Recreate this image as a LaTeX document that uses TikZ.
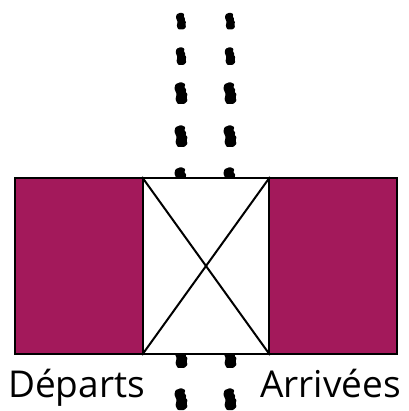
\documentclass[tikz,border=0pt]{standalone}
\usepackage{fontspec}
\setmainfont{Open Sans}
\definecolor{bordeaux}{HTML}{A3195B}
\tikzset{
  panel/.style={draw=black, line width=2pt},
  label/.style={inner sep=0pt, font=\fontsize{37}{42}\selectfont},
  footmark/.pic={
    \fill[black, rounded corners=0.8pt]
      (-5,8) -- (0,10) -- (4,8) -- (3,5) -- (5,3) -- (4,1) -- (6,-1) -- (5,-4) -- (6,-7)
      -- (3,-10) -- (-3,-10) -- (-5,-6) -- (-4,-1) -- (-6,4) -- cycle;
  }
}
\begin{document}
\begin{tikzpicture}[x=1pt,y=1pt]
\useasboundingbox (0,0) rectangle (408,411);
% footprints (y = 411 - pixel row)
\foreach \yy/\s in {390/0.85, 355/0.9, 318/1.1, 275/1.1, 233/1.1, 54/1.1, 12/1.1} {
  \pic[scale=\s] at (181,\yy) {footmark};
  \pic[scale=\s] at (230,\yy) {footmark};
}
% rectangles
\node[panel, fill=bordeaux, minimum width=128pt, minimum height=176pt, inner sep=0pt, anchor=south west] (dep) at (14,56) {};
\node[panel, fill=white, minimum width=126pt, minimum height=176pt, inner sep=0pt, anchor=south west] (mid) at (142,56) {};
\node[panel, fill=bordeaux, minimum width=128pt, minimum height=176pt, inner sep=0pt, anchor=south west] (arr) at (268,56) {};
\draw[line width=2pt] (mid.north west) -- (mid.south east);
\draw[line width=2pt] (mid.south west) -- (mid.north east);
% labels
\node[label, anchor=base west] (tdep) at (8,13) {Départs};
\node[label, anchor=base east] (tarr) at (401,13) {Arrivées};
\end{tikzpicture}
\end{document}
